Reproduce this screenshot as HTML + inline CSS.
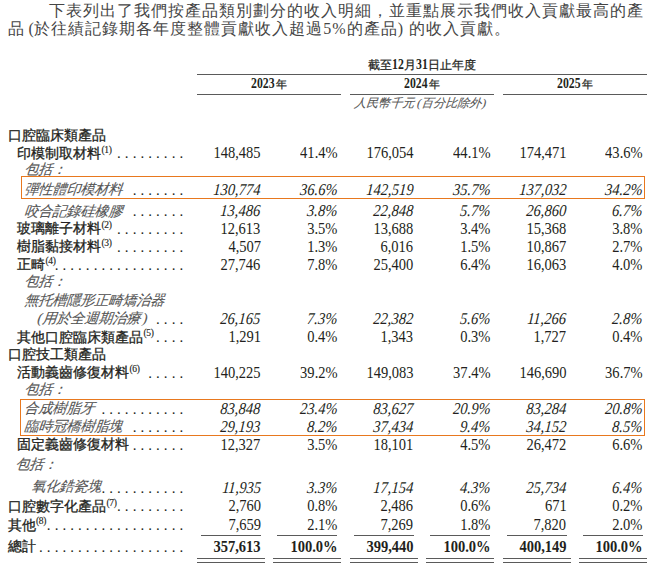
<!DOCTYPE html>
<html lang="zh-Hant"><head><meta charset="utf-8"><title>收入明細</title>
<style>
html,body{margin:0;padding:0;background:#fff;}
body{width:650px;height:568px;position:relative;overflow:hidden;font-family:"Liberation Serif",serif;color:#231f20;}
.a{position:absolute;white-space:nowrap;line-height:20px;}
.r{text-align:right;}
.lbl{font-size:14.25px;-webkit-text-stroke:0.3px #231f20;}
.it{-webkit-text-stroke:0.1px #555555;transform:skewX(-6deg);transform-origin:0 75%;}
.it{font-style:italic;color:#555555;}
.itn{font-style:italic;transform:scaleX(0.88) skewX(-5deg)!important;}
.num{font-size:16.5px;transform:scaleX(0.88);transform-origin:100% 50%;}
.b{font-weight:bold;}
.sup{font-size:9.5px;font-weight:normal;-webkit-text-stroke:0.15px #231f20;position:relative;top:-5.3px;margin-left:0.5px;letter-spacing:-0.3px;}
.dots{font-size:15px;letter-spacing:4.05px;}
.hl{position:absolute;height:1px;background:#5a5a5a;}
.yd{display:inline-block;font-size:14px;-webkit-text-stroke:0;transform:scaleX(0.84);transform-origin:0 0;}
.box{position:absolute;border:1px solid #e8781e;box-sizing:border-box;}
</style></head><body>

<div class="a" style="left:49px;top:1.40px;font-size:16px;letter-spacing:1px;color:#454545">下表列出了我們按產品類別劃分的收入明細，並重點展示我們收入貢獻最高的產</div>
<div class="a" style="left:7.5px;top:19.10px;font-size:16px;letter-spacing:1px;color:#454545">品<span style="margin-left:4px;margin-right:-1px">(</span>於往績記錄期各年度整體貢獻收入超過<span style="margin-left:0.5px">5%</span>的產品<span style="margin:0 5px 0 0">)</span>的收入貢獻。</div>
<div class="a" style="left:197px;width:450px;text-align:center;top:54.82px;font-size:11.8px;-webkit-text-stroke:0.25px #231f20">截至<b class="yd" style="width:11.8px">12</b>月<b class="yd" style="width:11.8px">31</b>日止年度</div>
<div class="hl" style="left:197px;width:450px;top:74px"></div>
<div class="a" style="left:197px;width:144px;text-align:center;top:74.22px;font-size:11.8px;-webkit-text-stroke:0.25px #231f20"><b class="yd" style="width:23.5px">2023</b><span style="font-size:11px;margin-left:1.2px">年</span></div>
<div class="hl" style="left:197px;width:144px;top:94px"></div>
<div class="a" style="left:350px;width:144px;text-align:center;top:74.22px;font-size:11.8px;-webkit-text-stroke:0.25px #231f20"><b class="yd" style="width:23.5px">2024</b><span style="font-size:11px;margin-left:1.2px">年</span></div>
<div class="hl" style="left:350px;width:144px;top:94px"></div>
<div class="a" style="left:503px;width:144px;text-align:center;top:74.22px;font-size:11.8px;-webkit-text-stroke:0.25px #231f20"><b class="yd" style="width:23.5px">2025</b><span style="font-size:11px;margin-left:1.2px">年</span></div>
<div class="hl" style="left:503px;width:144px;top:94px"></div>
<div class="a it" style="left:348px;width:144px;text-align:center;top:93.45px;font-size:12px">人民幣千元<span style="margin-left:2.5px">(</span>百分比除外<span style="margin-left:1px">)</span></div>
<div class="box" style="left:21px;top:176px;width:624px;height:22.5px"></div>
<div class="box" style="left:20px;top:399px;width:625px;height:36.5px"></div>
<div class="a lbl" style="left:8.0px;top:124.99px">口腔臨床類產品</div>
<div class="a lbl" style="left:17.0px;top:142.89px">印模制取材料<span class="sup">(1)</span></div>
<div class="a dots r" style="right:462.75px;top:143.14px">.........</div>
<div class="a num r" style="right:389.20px;top:143.13px">148,485</div>
<div class="a num r" style="right:312.80px;top:143.13px">41.4%</div>
<div class="a num r" style="right:236.40px;top:143.13px">176,054</div>
<div class="a num r" style="right:159.80px;top:143.13px">44.1%</div>
<div class="a num r" style="right:83.40px;top:143.13px">174,471</div>
<div class="a num r" style="right:7.40px;top:143.13px">43.6%</div>
<div class="a lbl it" style="left:23.5px;top:158.89px">包括：</div>
<div class="a lbl it" style="left:23.5px;top:179.29px">彈性體印模材料</div>
<div class="a dots r" style="right:462.75px;top:179.54px">.......</div>
<div class="a num r itn" style="right:389.20px;top:179.53px">130,774</div>
<div class="a num r itn" style="right:312.80px;top:179.53px">36.6%</div>
<div class="a num r itn" style="right:236.40px;top:179.53px">142,519</div>
<div class="a num r itn" style="right:159.80px;top:179.53px">35.7%</div>
<div class="a num r itn" style="right:83.40px;top:179.53px">137,032</div>
<div class="a num r itn" style="right:7.40px;top:179.53px">34.2%</div>
<div class="a lbl it" style="left:23.5px;top:200.69px">咬合記錄硅橡膠</div>
<div class="a dots r" style="right:462.75px;top:200.94px">.......</div>
<div class="a num r itn" style="right:389.20px;top:200.93px">13,486</div>
<div class="a num r itn" style="right:312.80px;top:200.93px">3.8%</div>
<div class="a num r itn" style="right:236.40px;top:200.93px">22,848</div>
<div class="a num r itn" style="right:159.80px;top:200.93px">5.7%</div>
<div class="a num r itn" style="right:83.40px;top:200.93px">26,860</div>
<div class="a num r itn" style="right:7.40px;top:200.93px">6.7%</div>
<div class="a lbl" style="left:17.0px;top:218.39px">玻璃離子材料<span class="sup">(2)</span></div>
<div class="a dots r" style="right:462.75px;top:218.64px">.........</div>
<div class="a num r" style="right:389.20px;top:218.63px">12,613</div>
<div class="a num r" style="right:312.80px;top:218.63px">3.5%</div>
<div class="a num r" style="right:236.40px;top:218.63px">13,688</div>
<div class="a num r" style="right:159.80px;top:218.63px">3.4%</div>
<div class="a num r" style="right:83.40px;top:218.63px">15,368</div>
<div class="a num r" style="right:7.40px;top:218.63px">3.8%</div>
<div class="a lbl" style="left:17.0px;top:236.29px">樹脂黏接材料<span class="sup">(3)</span></div>
<div class="a dots r" style="right:462.75px;top:236.54px">.........</div>
<div class="a num r" style="right:389.20px;top:236.53px">4,507</div>
<div class="a num r" style="right:312.80px;top:236.53px">1.3%</div>
<div class="a num r" style="right:236.40px;top:236.53px">6,016</div>
<div class="a num r" style="right:159.80px;top:236.53px">1.5%</div>
<div class="a num r" style="right:83.40px;top:236.53px">10,867</div>
<div class="a num r" style="right:7.40px;top:236.53px">2.7%</div>
<div class="a lbl" style="left:17.0px;top:254.49px">正畸<span class="sup">(4)</span></div>
<div class="a dots r" style="right:462.75px;top:254.74px">.................</div>
<div class="a num r" style="right:389.20px;top:254.73px">27,746</div>
<div class="a num r" style="right:312.80px;top:254.73px">7.8%</div>
<div class="a num r" style="right:236.40px;top:254.73px">25,400</div>
<div class="a num r" style="right:159.80px;top:254.73px">6.4%</div>
<div class="a num r" style="right:83.40px;top:254.73px">16,063</div>
<div class="a num r" style="right:7.40px;top:254.73px">4.0%</div>
<div class="a lbl it" style="left:23.5px;top:271.09px">包括：</div>
<div class="a lbl it" style="left:23.5px;top:290.19px">無托槽隱形正畸矯治器</div>
<div class="a lbl it" style="left:37.0px;top:308.39px">(用於全週期治療<span style="margin-left:2.5px">)</span></div>
<div class="a dots r" style="right:462.75px;top:308.64px">....</div>
<div class="a num r itn" style="right:389.20px;top:308.63px">26,165</div>
<div class="a num r itn" style="right:312.80px;top:308.63px">7.3%</div>
<div class="a num r itn" style="right:236.40px;top:308.63px">22,382</div>
<div class="a num r itn" style="right:159.80px;top:308.63px">5.6%</div>
<div class="a num r itn" style="right:83.40px;top:308.63px">11,266</div>
<div class="a num r itn" style="right:7.40px;top:308.63px">2.8%</div>
<div class="a lbl" style="left:17.0px;top:326.59px">其他口腔臨床類產品<span class="sup">(5)</span></div>
<div class="a dots r" style="right:462.75px;top:326.84px">....</div>
<div class="a num r" style="right:389.20px;top:326.83px">1,291</div>
<div class="a num r" style="right:312.80px;top:326.83px">0.4%</div>
<div class="a num r" style="right:236.40px;top:326.83px">1,343</div>
<div class="a num r" style="right:159.80px;top:326.83px">0.3%</div>
<div class="a num r" style="right:83.40px;top:326.83px">1,727</div>
<div class="a num r" style="right:7.40px;top:326.83px">0.4%</div>
<div class="a lbl" style="left:8.0px;top:343.89px">口腔技工類產品</div>
<div class="a lbl" style="left:17.0px;top:362.49px">活動義齒修復材料<span class="sup">(6)</span></div>
<div class="a dots r" style="right:462.75px;top:362.74px">.....</div>
<div class="a num r" style="right:389.20px;top:362.73px">140,225</div>
<div class="a num r" style="right:312.80px;top:362.73px">39.2%</div>
<div class="a num r" style="right:236.40px;top:362.73px">149,083</div>
<div class="a num r" style="right:159.80px;top:362.73px">37.4%</div>
<div class="a num r" style="right:83.40px;top:362.73px">146,690</div>
<div class="a num r" style="right:7.40px;top:362.73px">36.7%</div>
<div class="a lbl it" style="left:23.5px;top:379.39px">包括：</div>
<div class="a lbl it" style="left:23.5px;top:398.39px">合成樹脂牙</div>
<div class="a dots r" style="right:462.75px;top:398.64px">...........</div>
<div class="a num r itn" style="right:389.20px;top:398.63px">83,848</div>
<div class="a num r itn" style="right:312.80px;top:398.63px">23.4%</div>
<div class="a num r itn" style="right:236.40px;top:398.63px">83,627</div>
<div class="a num r itn" style="right:159.80px;top:398.63px">20.9%</div>
<div class="a num r itn" style="right:83.40px;top:398.63px">83,284</div>
<div class="a num r itn" style="right:7.40px;top:398.63px">20.8%</div>
<div class="a lbl it" style="left:23.5px;top:416.49px">臨時冠橋樹脂塊</div>
<div class="a dots r" style="right:462.75px;top:416.74px">.......</div>
<div class="a num r itn" style="right:389.20px;top:416.73px">29,193</div>
<div class="a num r itn" style="right:312.80px;top:416.73px">8.2%</div>
<div class="a num r itn" style="right:236.40px;top:416.73px">37,434</div>
<div class="a num r itn" style="right:159.80px;top:416.73px">9.4%</div>
<div class="a num r itn" style="right:83.40px;top:416.73px">34,152</div>
<div class="a num r itn" style="right:7.40px;top:416.73px">8.5%</div>
<div class="a lbl" style="left:17.0px;top:434.39px">固定義齒修復材料</div>
<div class="a dots r" style="right:462.75px;top:434.64px">.......</div>
<div class="a num r" style="right:389.20px;top:434.63px">12,327</div>
<div class="a num r" style="right:312.80px;top:434.63px">3.5%</div>
<div class="a num r" style="right:236.40px;top:434.63px">18,101</div>
<div class="a num r" style="right:159.80px;top:434.63px">4.5%</div>
<div class="a num r" style="right:83.40px;top:434.63px">26,472</div>
<div class="a num r" style="right:7.40px;top:434.63px">6.6%</div>
<div class="a lbl it" style="left:15.0px;top:454.39px">包括：</div>
<div class="a lbl it" style="left:30.5px;top:476.49px">氧化鋯瓷塊</div>
<div class="a dots r" style="right:462.75px;top:478.24px">...........</div>
<div class="a num r itn" style="right:389.20px;top:478.23px">11,935</div>
<div class="a num r itn" style="right:312.80px;top:478.23px">3.3%</div>
<div class="a num r itn" style="right:236.40px;top:478.23px">17,154</div>
<div class="a num r itn" style="right:159.80px;top:478.23px">4.3%</div>
<div class="a num r itn" style="right:83.40px;top:478.23px">25,734</div>
<div class="a num r itn" style="right:7.40px;top:478.23px">6.4%</div>
<div class="a lbl" style="left:8.0px;top:496.19px">口腔數字化產品<span class="sup">(7)</span></div>
<div class="a dots r" style="right:462.75px;top:496.44px">.........</div>
<div class="a num r" style="right:389.20px;top:496.43px">2,760</div>
<div class="a num r" style="right:312.80px;top:496.43px">0.8%</div>
<div class="a num r" style="right:236.40px;top:496.43px">2,486</div>
<div class="a num r" style="right:159.80px;top:496.43px">0.6%</div>
<div class="a num r" style="right:83.40px;top:496.43px">671</div>
<div class="a num r" style="right:7.40px;top:496.43px">0.2%</div>
<div class="a lbl" style="left:7.5px;top:514.59px">其他<span class="sup">(8)</span></div>
<div class="a dots r" style="right:462.75px;top:514.84px">..................</div>
<div class="a num r" style="right:389.20px;top:514.83px">7,659</div>
<div class="a num r" style="right:312.80px;top:514.83px">2.1%</div>
<div class="a num r" style="right:236.40px;top:514.83px">7,269</div>
<div class="a num r" style="right:159.80px;top:514.83px">1.8%</div>
<div class="a num r" style="right:83.40px;top:514.83px">7,820</div>
<div class="a num r" style="right:7.40px;top:514.83px">2.0%</div>
<div class="a lbl" style="left:7.5px;top:536.29px">總計</div>
<div class="a dots r" style="right:462.75px;top:536.54px">...................</div>
<div class="a num r b" style="right:389.20px;top:537.03px">357,613</div>
<div class="a num r b" style="right:312.80px;top:537.03px">100.0%</div>
<div class="a num r b" style="right:236.40px;top:537.03px">399,440</div>
<div class="a num r b" style="right:159.80px;top:537.03px">100.0%</div>
<div class="a num r b" style="right:83.40px;top:537.03px">400,149</div>
<div class="a num r b" style="right:7.40px;top:537.03px">100.0%</div>
<div class="hl" style="left:201.0px;width:60.0px;top:535px"></div>
<div class="hl" style="left:277.0px;width:59.5px;top:535px"></div>
<div class="hl" style="left:197.0px;width:68.0px;top:558px"></div>
<div class="hl" style="left:273.0px;width:68.0px;top:558px"></div>
<div class="hl" style="left:197.0px;width:68.0px;top:562px"></div>
<div class="hl" style="left:273.0px;width:68.0px;top:562px"></div>
<div class="hl" style="left:354.0px;width:60.0px;top:535px"></div>
<div class="hl" style="left:430.0px;width:59.5px;top:535px"></div>
<div class="hl" style="left:350.0px;width:68.0px;top:558px"></div>
<div class="hl" style="left:426.0px;width:68.0px;top:558px"></div>
<div class="hl" style="left:350.0px;width:68.0px;top:562px"></div>
<div class="hl" style="left:426.0px;width:68.0px;top:562px"></div>
<div class="hl" style="left:507.0px;width:60.0px;top:535px"></div>
<div class="hl" style="left:583.0px;width:59.5px;top:535px"></div>
<div class="hl" style="left:503.0px;width:68.0px;top:558px"></div>
<div class="hl" style="left:579.0px;width:68.0px;top:558px"></div>
<div class="hl" style="left:503.0px;width:68.0px;top:562px"></div>
<div class="hl" style="left:579.0px;width:68.0px;top:562px"></div>
</body></html>
